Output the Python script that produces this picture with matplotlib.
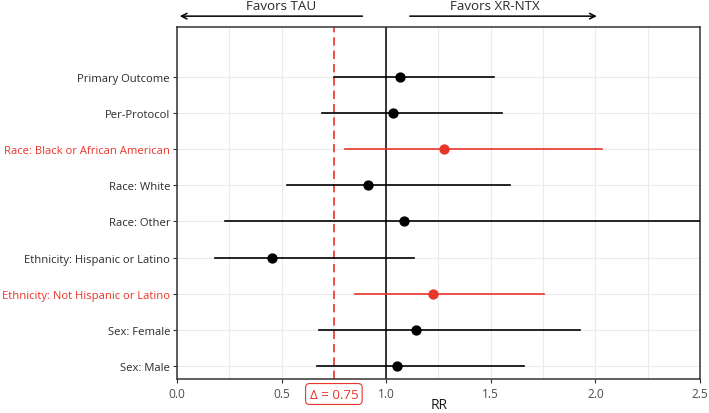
import matplotlib.pyplot as plt

plt.rcParams['font.family'] = ['Open Sans', 'DejaVu Sans']

labels = ["Primary Outcome", "Per-Protocol", "Race: Black or African American",
          "Race: White", "Race: Other", "Ethnicity: Hispanic or Latino",
          "Ethnicity: Not Hispanic or Latino", "Sex: Female", "Sex: Male"]
rr = [1.067, 1.032, 1.276, 0.915, 1.085, 0.453, 1.222, 1.142, 1.054]
lower = [0.751, 0.692, 0.804, 0.528, 0.230, 0.182, 0.852, 0.679, 0.671]
upper = [1.515, 1.553, 2.032, 1.593, 2.700, 1.131, 1.756, 1.925, 1.657]
highlight = [False, False, True, False, False, False, True, False, False]
delta = 0.75

red = "#E8352B"

fig = plt.figure(figsize=(7.09, 4.14), dpi=100)
ax = fig.add_axes([0.2496, 0.0821, 0.7377, 0.8503])

n = len(labels)
ypos = [n - i for i in range(n)]

for y, m, lo, hi, h in zip(ypos, rr, lower, upper, highlight):
    c = red if h else "black"
    ax.plot([lo, hi], [y, y], color=c, lw=1.2, zorder=3)
    ax.plot(m, y, "o", color=c, ms=6.4, zorder=4)

ax.axvline(1.0, color="black", lw=1.1, zorder=2)
ax.axvline(delta, color=red, lw=1.2, ls=(0, (5, 3)), zorder=2)

ax.set_xlim(0, 2.5)
ax.set_ylim(0.64, 10.38)
ax.set_xticks([0, 0.5, 1.0, 1.5, 2.0, 2.5])
ax.set_xticklabels(["0.0", "0.5", "1.0", "1.5", "2.0", "2.5"])
ax.set_xticks([0.25, 0.75, 1.25, 1.75, 2.25], minor=True)
ax.set_yticks(ypos)
ax.set_yticklabels(labels)
for t, h in zip(ax.get_yticklabels(), highlight):
    t.set_color(red if h else "#2b2b2b")
for t in ax.get_xticklabels():
    t.set_color("#4d4d4d")
ax.tick_params(axis="y", labelsize=8.1, length=3, color="#333333", pad=2)
ax.tick_params(axis="x", labelsize=8.6, length=3, color="#333333", pad=3)
ax.tick_params(axis="x", which="minor", length=0)
ax.grid(True, which="major", color="#ebebeb", lw=0.8, zorder=0)
ax.grid(True, which="minor", axis="x", color="#ebebeb", lw=0.8, zorder=0)
for s in ax.spines.values():
    s.set_color("#333333")
    s.set_linewidth(1.1)

fig.text(439 / 709, (414 - 406) / 414, "RR", ha="center", va="center",
         fontsize=10, color="#1a1a1a")

# favors arrows above the panel
ax.annotate("", xy=(0.0, 10.68), xytext=(0.90, 10.68), xycoords="data",
            arrowprops=dict(arrowstyle="->", color="black", lw=1.1), annotation_clip=False)
ax.annotate("", xy=(2.02, 10.68), xytext=(1.10, 10.68), xycoords="data",
            arrowprops=dict(arrowstyle="->", color="black", lw=1.1), annotation_clip=False)
ax.text(0.50, 10.97, "Favors TAU", ha="center", va="center", fontsize=9.6,
        color="#2b2b2b", clip_on=False)
ax.text(1.52, 10.97, "Favors XR-NTX", ha="center", va="center", fontsize=9.6,
        color="#2b2b2b", clip_on=False)

ax.text(delta, (380 - 395) / 352, "\u0394 = 0.75", transform=ax.get_xaxis_transform(),
        ha="center", va="center", fontsize=9.5, color=red,
        bbox=dict(boxstyle="round,pad=0.3", fc="white", ec=red, lw=0.8))

fig.savefig("out.png", dpi=100)
